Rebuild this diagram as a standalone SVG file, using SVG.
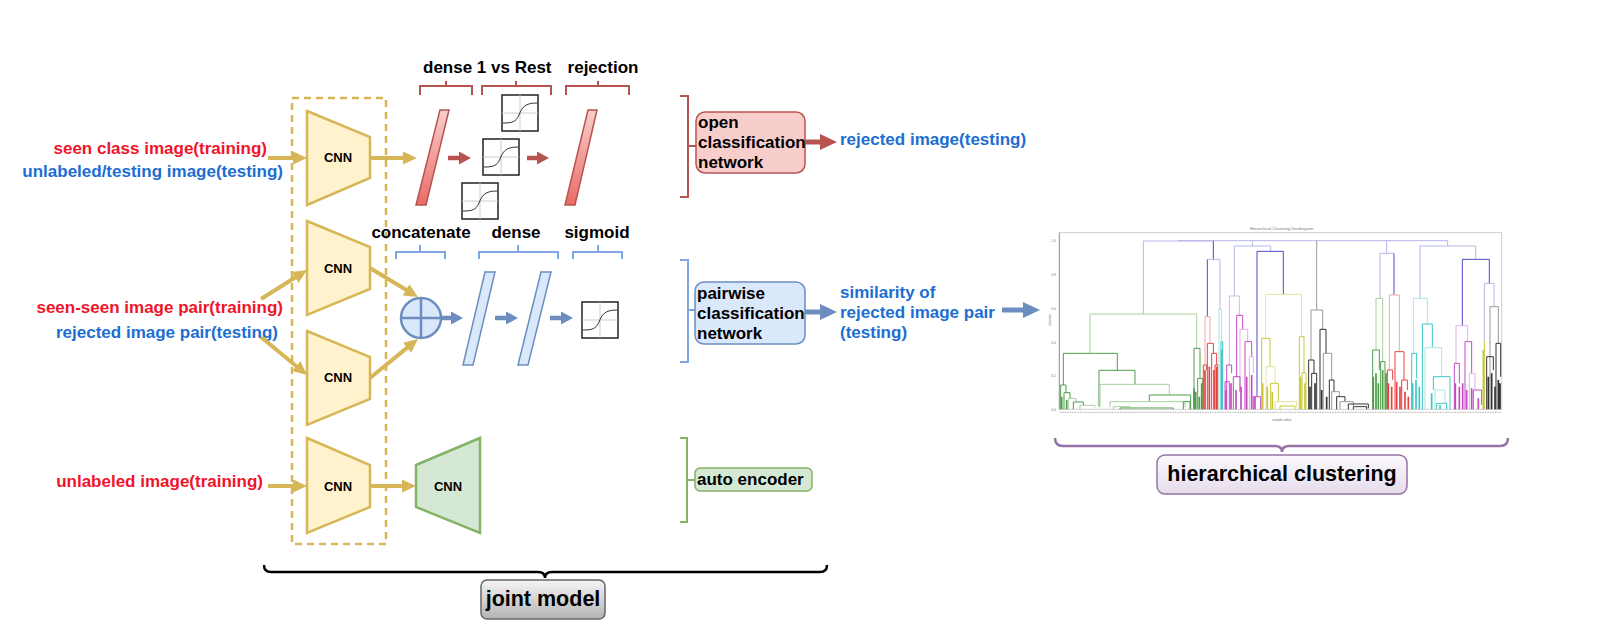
<svg xmlns="http://www.w3.org/2000/svg" width="1602" height="640" viewBox="0 0 1602 640">
<style>
text{font-family:"Liberation Sans",Arial,sans-serif;font-weight:bold}
.lbl{font-size:17px}
.red{fill:#f0142a}
.blu{fill:#1c6ed2}
.blk{fill:#000}
.cnn{fill:#fff2cc;stroke:#d6b656;stroke-width:2.5}
.cnnt{font-size:13px;text-anchor:middle;fill:#000}
.ay{fill:none;stroke:#d6b656;stroke-width:4;marker-end:url(#ah-y)}
.ar{fill:none;stroke:#b85450;stroke-width:4.5;marker-end:url(#ah-r)}
.ab{fill:none;stroke:#6c8ebf;stroke-width:4.5;marker-end:url(#ah-b)}
.arb{fill:none;stroke:#b85450;stroke-width:5;marker-end:url(#ah-rb)}
.abb{fill:none;stroke:#6c8ebf;stroke-width:5;marker-end:url(#ah-bb)}
.brr{fill:none;stroke:#b85450;stroke-width:2}
.brb{fill:none;stroke:#7ea6e0;stroke-width:2}
.brg{fill:none;stroke:#82b366;stroke-width:2}
.rbar{fill:url(#gr);stroke:#b85450;stroke-width:1.5}
.bbar{fill:#dae8fc;stroke:#6c8ebf;stroke-width:1.5}
.sigbox{fill:#fff;stroke:#222;stroke-width:1.5}
.siggrid{stroke:#ccc;stroke-width:1;fill:none}
.sigc{stroke:#333;stroke-width:1;fill:none}
.dg path{fill:none;stroke-width:3}
.g{stroke:#4e9e4a}.gl{stroke:#a5d29e}.r{stroke:#e8403f}.rl{stroke:#f1a9a8}
.m{stroke:#c24bc2}.ml{stroke:#e5b2e5}.y{stroke:#c8c83a}.yl{stroke:#e2e29c}
.c{stroke:#3cc6c6}.cl{stroke:#a9e5e5}.k{stroke:#333}.kl{stroke:#9a9a9a}
.b{stroke:#4b4bc4}.bl{stroke:#b6b6ea}
.thick{stroke-width:5 !important}
.tiny{font-weight:normal;fill:#777}
</style>
<defs>
<linearGradient id="gr" x1="0" y1="0" x2="0" y2="1"><stop offset="0" stop-color="#f8cecc"/><stop offset="1" stop-color="#ea6b66"/></linearGradient>
<linearGradient id="gg" x1="0" y1="0" x2="0" y2="1"><stop offset="0" stop-color="#f5f5f5"/><stop offset="1" stop-color="#b3b3b3"/></linearGradient>
<linearGradient id="gp" x1="0" y1="0" x2="0" y2="1"><stop offset="0" stop-color="#fbf9fc"/><stop offset="1" stop-color="#e6dcec"/></linearGradient>
<marker id="ah-y" viewBox="0 0 10 10" refX="1" refY="5" markerWidth="14" markerHeight="13" orient="auto" markerUnits="userSpaceOnUse" preserveAspectRatio="none"><path d="M0,0 L10,5 L0,10 Z" fill="#d6b656"/></marker>
<marker id="ah-r" viewBox="0 0 10 10" refX="1" refY="5" markerWidth="12" markerHeight="13" orient="auto" markerUnits="userSpaceOnUse" preserveAspectRatio="none"><path d="M0,0 L10,5 L0,10 Z" fill="#b85450"/></marker>
<marker id="ah-b" viewBox="0 0 10 10" refX="1" refY="5" markerWidth="12" markerHeight="13" orient="auto" markerUnits="userSpaceOnUse" preserveAspectRatio="none"><path d="M0,0 L10,5 L0,10 Z" fill="#6c8ebf"/></marker>
<marker id="ah-rb" viewBox="0 0 10 10" refX="1" refY="5" markerWidth="17" markerHeight="16" orient="auto" markerUnits="userSpaceOnUse" preserveAspectRatio="none"><path d="M0,0 L10,5 L0,10 Z" fill="#b85450"/></marker>
<marker id="ah-bb" viewBox="0 0 10 10" refX="1" refY="5" markerWidth="17" markerHeight="16" orient="auto" markerUnits="userSpaceOnUse" preserveAspectRatio="none"><path d="M0,0 L10,5 L0,10 Z" fill="#6c8ebf"/></marker>
<g id="sig">
<rect class="sigbox" x="0" y="0" width="36" height="36"/>
<path class="siggrid" d="M18,0 V36 M0,18 H36"/>
<path class="sigc" d="M1,28 C10,28 14,27 17,20 S22,8 35,8"/>
</g>
</defs>

<!-- input labels -->
<g id="labels-in">
<text class="lbl red" x="267" y="154" text-anchor="end">seen class image(training)</text>
<text class="lbl blu" x="283" y="177" text-anchor="end">unlabeled/testing image(testing)</text>
<text class="lbl red" x="283" y="313" text-anchor="end">seen-seen image pair(training)</text>
<text class="lbl blu" x="278" y="338" text-anchor="end">rejected image pair(testing)</text>
<text class="lbl red" x="263" y="487" text-anchor="end">unlabeled image(training)</text>
</g>

<!-- shared encoder dashed box -->
<g id="shared-box">
<rect x="292" y="98" width="94" height="446" fill="none" stroke="#d6b656" stroke-width="2.5" stroke-dasharray="7 5"/>
</g>

<g id="cnn1"><polygon class="cnn" points="307,111 370,137 370,178 307,205"/><text class="cnnt" x="338" y="162">CNN</text></g>
<g id="cnn2"><polygon class="cnn" points="307,221 370,247 370,289 307,315"/><text class="cnnt" x="338" y="273">CNN</text></g>
<g id="cnn3"><polygon class="cnn" points="307,331 370,357 370,399 307,425"/><text class="cnnt" x="338" y="382">CNN</text></g>
<g id="cnn4"><polygon class="cnn" points="307,438 370,465 370,507 307,533"/><text class="cnnt" x="338" y="491">CNN</text></g>
<g id="decoder"><polygon points="416,465 480,438 480,533 416,507" fill="#d5e8d4" stroke="#82b366" stroke-width="2.5"/><text class="cnnt" x="448" y="491">CNN</text></g>

<!-- open classification branch -->
<g id="open-layers">
<text class="lbl blk" x="423" y="73">dense 1 vs Rest</text>
<text class="lbl blk" x="603" y="73" text-anchor="middle">rejection</text>
<path class="brr" d="M420,95 V86 H472 V95 M446,86 V81"/>
<path class="brr" d="M482,95 V86 H551 V95 M516,86 V81"/>
<path class="brr" d="M566,95 V86 H629 V95 M598,86 V81"/>
<polygon class="rbar" points="440,110 449,110 426,205 416,205"/>
<polygon class="rbar" points="588,110 597,110 575,205 565,205"/>
<use href="#sig" x="502" y="95"/>
<use href="#sig" x="483" y="139"/>
<use href="#sig" x="462" y="183"/>
</g>

<!-- pairwise branch -->
<g id="pair-layers">
<text class="lbl blk" x="421" y="238" text-anchor="middle">concatenate</text>
<text class="lbl blk" x="516" y="238" text-anchor="middle">dense</text>
<text class="lbl blk" x="597" y="238" text-anchor="middle">sigmoid</text>
<path class="brb" d="M396,259 V252 H445 V259 M420,252 V245"/>
<path class="brb" d="M479,259 V252 H558 V259 M518,252 V245"/>
<path class="brb" d="M573,259 V252 H622 V259 M598,252 V245"/>
<circle cx="421" cy="318" r="20" fill="#dae8fc" stroke="#6c8ebf" stroke-width="2.5"/>
<path d="M401,318 H441 M421,298 V338" stroke="#6c8ebf" stroke-width="2.5" fill="none"/>
<polygon class="bbar" points="485,272 495,272 473,365 463,365"/>
<polygon class="bbar" points="541,272 551,272 528,365 518,365"/>
<use href="#sig" x="582" y="302"/>
</g>

<!-- group brackets and heads -->
<g id="open-head">
<path class="brr" d="M680,96 H688 V197 H680 M688,146 H696"/>
<rect x="696" y="112" width="109" height="61" rx="9" fill="#f8cecc" stroke="#b85450" stroke-width="1.5"/>
<text class="lbl blk" x="698" y="128">open</text>
<text class="lbl blk" x="698" y="148">classification</text>
<text class="lbl blk" x="698" y="168">network</text>
</g>
<g id="pair-head">
<path class="brb" d="M680,260 H688 V362 H680 M688,310 H695"/>
<rect x="695" y="282" width="110" height="62" rx="9" fill="#dae8fc" stroke="#6c8ebf" stroke-width="1.5"/>
<text class="lbl blk" x="697" y="299">pairwise</text>
<text class="lbl blk" x="697" y="319">classification</text>
<text class="lbl blk" x="697" y="339">network</text>
</g>
<g id="ae-head">
<path class="brg" d="M680,438 H687 V522 H680 M687,480 H695"/>
<rect x="695" y="468" width="117" height="23" rx="5" fill="#d5e8d4" stroke="#82b366" stroke-width="1.5"/>
<text class="lbl blk" x="697" y="485">auto encoder</text>
</g>

<g id="outputs">
<text class="lbl blu" x="840" y="145">rejected image(testing)</text>
<text class="lbl blu" x="840" y="298">similarity of</text>
<text class="lbl blu" x="840" y="318">rejected image pair</text>
<text class="lbl blu" x="840" y="338">(testing)</text>
</g>

<!-- connectors -->
<g id="connectors">
<path class="ay" d="M268,158 H294.4"/>
<path class="ay" d="M370,158 H404.4"/>
<path class="ay" d="M261,299 L296.3,276.7"/>
<path class="ay" d="M261,337 L297.3,367"/>
<path class="ay" d="M370,268 L407.2,290.5"/>
<path class="ay" d="M370,378 L408.2,346.9"/>
<path class="ay" d="M268,486 H294.4"/>
<path class="ay" d="M370,486 H403.4"/>
<path class="ar" d="M448,158 H460.2"/>
<path class="ar" d="M527,158 H538.2"/>
<path class="ab" d="M441,318 H452.2"/>
<path class="ab" d="M495,318 H507.2"/>
<path class="ab" d="M550,318 H562.2"/>
<path class="arb" d="M805,142 H821.7"/>
<path class="abb" d="M805,312 H821.7"/>
<path class="abb" d="M1002,310 H1024.7"/>
</g>

<!-- joint model -->
<g id="joint-model">
<path d="M264,565 Q264,572 271,572 H538 Q545,572 545,578 Q545,572 552,572 H820 Q827,572 827,565" fill="none" stroke="#000" stroke-width="2.5"/>
<rect x="481" y="580" width="124" height="39" rx="6" fill="url(#gg)" stroke="#666" stroke-width="1.5"/>
<text x="543" y="600" font-size="21.5" text-anchor="middle" dominant-baseline="middle" fill="#000">joint model</text>
</g>

<!-- dendrogram -->
<g id="dendrogram" class="dg" transform="translate(1020,210) scale(0.33333)">
<rect x="118" y="68" width="1327" height="530" fill="#fff" stroke="#cfcfcf" stroke-width="3"/>
<path d="M118,68 V598" stroke="#999"/>
<text class="tiny" x="785" y="60" font-size="12" text-anchor="middle">Hierarchical Clustering Dendrogram</text>
<text class="tiny" x="108" y="96" font-size="10" text-anchor="end">1.0</text>
<text class="tiny" x="108" y="199" font-size="10" text-anchor="end">0.8</text>
<text class="tiny" x="108" y="300" font-size="10" text-anchor="end">0.6</text>
<text class="tiny" x="108" y="401" font-size="10" text-anchor="end">0.4</text>
<text class="tiny" x="108" y="502" font-size="10" text-anchor="end">0.2</text>
<text class="tiny" x="108" y="602" font-size="10" text-anchor="end">0.0</text>
<text class="tiny" x="0" y="0" font-size="10" text-anchor="middle" transform="translate(92,330) rotate(-90)">distance</text>
<text class="tiny" x="785" y="632" font-size="10" text-anchor="middle">sample index</text>
<path d="M120,607 H1443" stroke="#8a8a8a" stroke-width="12" stroke-dasharray="3 2" opacity="0.7"/>
<!-- top -->
<path class="bl" d="M370,312 V93 H580"/>
<path class="bl" d="M475,93 V92 H1283 V108"/>
<path class="bl" d="M697,108 V92"/>
<path class="kl" d="M890,300 V92"/>
<path class="bl" d="M1100,130 V92"/>
<path class="b" d="M580,93 V148"/>
<path class="b" d="M562,320 V148"/>
<path class="bl" d="M562,148 H600 V298"/>
<path class="bl" d="M643,258 V108 H752 V124"/>
<path class="b" d="M711,560 V124 H790 V253"/>
<path class="bl" d="M1080,265 V130 H1122"/>
<path class="b" d="M1122,130 V255"/>
<path class="bl" d="M1200,265 V108 H1367 V148"/>
<path class="b" d="M1327,347 V148 H1408 V220"/>
<path class="bl" d="M1393,390 V220 H1422 V290"/>
<!-- left green -->
<path class="gl" d="M210,430 V312 H530 V415"/>
<path class="g" d="M130,525 V430 H292 V481"/>
<path class="g" d="M237,590 V481 H345 V523"/>
<path class="gl" d="M240,592 V523 H448 V555"/>
<path class="g" d="M388,575 V555 H512 V598"/>
<path class="gl" d="M270,592 V575 H495 V592"/>
<path class="g" d="M122,598 V525 H138 V548"/>
<path class="g" d="M132,598 V548 H150 V565"/>
<path class="gl" d="M145,598 V565 H168 V576"/>
<path class="g" d="M160,598 V576 H190 V586"/>
<path class="gl" d="M180,598 V586 H225 V592"/>
<path class="gl" d="M280,598 V590 H330 V596"/>
<path class="g" d="M300,598 V594 H460 V598"/>
<path class="g" d="M490,598 V575 H510 V598"/>
<path class="g" d="M522,598 V415 H540 V505"/>
<path class="g" d="M533,598 V505 H548 V598"/>
<path class="g thick" d="M522,598 V535 M527,598 V545 M538,598 V560 M545,598 V520 M125,598 V560 M140,598 V570"/>
<!-- red -->
<path class="rl" d="M555,465 V320 H570 V400"/>
<path class="r" d="M562,598 V400 H580 V430"/>
<path class="r" d="M575,598 V430 H590 V465"/>
<path class="r" d="M550,598 V465 H560 V480"/>
<path class="r" d="M585,598 V465 H593 V598"/>
<path class="r thick" d="M555,598 V480 M568,598 V470 M582,598 V480 M590,598 V470"/>
<path class="cl" d="M597,598 V298 H605 V395"/>
<path class="c" d="M603,598 V395 H608 V598"/>
<path class="c thick" d="M605,598 V420"/>
<!-- magenta -->
<path class="ml" d="M628,465 V258 H658 V316"/>
<path class="m" d="M650,500 V316 H668 V358"/>
<path class="ml" d="M660,545 V358 H683 V395"/>
<path class="m" d="M675,598 V395 H695 V440"/>
<path class="ml" d="M688,598 V440 H700 V490"/>
<path class="m" d="M620,598 V465 H635 V490"/>
<path class="m" d="M615,598 V515 H628 V598"/>
<path class="m" d="M640,598 V500 H660 V545"/>
<path class="m" d="M700,598 V560 H722 V598"/>
<path class="m thick" d="M618,598 V540 M633,598 V520 M648,598 V540 M663,598 V530 M680,598 V500 M695,598 V495 M705,598 V560"/>
<!-- yellow -->
<path class="yl" d="M737,385 V253 H845 V380"/>
<path class="y" d="M725,598 V385 H750 V470"/>
<path class="yl" d="M738,598 V470 H765 V520"/>
<path class="y" d="M752,598 V520 H775 V575"/>
<path class="yl" d="M765,598 V575 H830 V592"/>
<path class="y" d="M780,598 V588 H825 V598"/>
<path class="y" d="M838,598 V380 H852 V488"/>
<path class="y" d="M846,598 V488 H858 V598"/>
<path class="y thick" d="M728,598 V520 M742,598 V530 M757,598 V545 M842,598 V500 M855,598 V520"/>
<!-- black -->
<path class="kl" d="M873,450 V300 H908 V358"/>
<path class="k" d="M900,598 V358 H918 V430"/>
<path class="k" d="M866,598 V450 H882 V490"/>
<path class="k" d="M875,598 V490 H890 V598"/>
<path class="kl" d="M910,598 V430 H935 V510"/>
<path class="k" d="M928,598 V510 H942 V545"/>
<path class="kl" d="M935,598 V545 H958 V560"/>
<path class="k" d="M950,598 V560 H975 V575"/>
<path class="kl" d="M960,598 V575 H1000 V588"/>
<path class="k" d="M985,598 V582 H1045 V595"/>
<path class="k" d="M1000,598 V590 H1040 V598"/>
<path class="k thick" d="M870,598 V530 M885,598 V520 M905,598 V540 M920,598 V560"/>
<!-- right green -->
<path class="gl" d="M1068,420 V265 H1088 V455"/>
<path class="g" d="M1058,598 V420 H1078 V480"/>
<path class="g" d="M1082,598 V455 H1095 V598"/>
<path class="g thick" d="M1060,598 V500 M1068,598 V490 M1075,598 V520 M1088,598 V480 M1098,598 V490"/>
<!-- right red -->
<path class="rl" d="M1108,480 V255 H1138 V425"/>
<path class="r" d="M1125,598 V425 H1152 V510"/>
<path class="r" d="M1102,598 V480 H1118 V510"/>
<path class="r" d="M1145,598 V510 H1162 V540"/>
<path class="r thick" d="M1105,598 V520 M1115,598 V530 M1130,598 V515 M1140,598 V530 M1155,598 V545 M1165,598 V560"/>
<!-- cyan -->
<path class="cl" d="M1180,430 V265 H1222 V342"/>
<path class="c" d="M1207,598 V342 H1237 V413"/>
<path class="cl" d="M1215,598 V413 H1265 V500"/>
<path class="c" d="M1240,540 V500 H1290 V598"/>
<path class="c" d="M1175,598 V430 H1190 V505"/>
<path class="cl" d="M1245,598 V540 H1275 V580"/>
<path class="c" d="M1250,598 V580 H1280 V598"/>
<path class="c thick" d="M1178,598 V520 M1188,598 V510 M1198,598 V530 M1235,598 V550 M1260,598 V585"/>
<!-- right magenta -->
<path class="ml" d="M1308,460 V347 H1343 V395"/>
<path class="m" d="M1335,598 V395 H1355 V490"/>
<path class="m" d="M1303,598 V460 H1318 V520"/>
<path class="ml" d="M1348,598 V490 H1365 V540"/>
<path class="m" d="M1360,598 V540 H1385 V585"/>
<path class="m thick" d="M1306,598 V520 M1318,598 V530 M1328,598 V520 M1340,598 V540 M1355,598 V535 M1375,598 V565"/>
<!-- right yellow and gray -->
<path class="y" d="M1393,598 V390"/>
<path class="y thick" d="M1390,598 V420"/>
<path class="kl" d="M1410,598 V290 H1435 V400"/>
<path class="k" d="M1400,598 V440 H1420 V480"/>
<path class="k" d="M1428,598 V400 H1442 V500"/>
<path class="k thick" d="M1405,598 V500 M1415,598 V490 M1425,598 V530 M1435,598 V510 M1440,598 V520"/>
</g>

<!-- hierarchical clustering -->
<g id="hier-clustering">
<path d="M1055,438 Q1055,446 1063,446 H1275 Q1282,446 1282,452 Q1282,446 1289,446 H1500 Q1508,446 1508,438" fill="none" stroke="#9673a6" stroke-width="2.5"/>
<rect x="1157" y="455" width="250" height="39" rx="8" fill="url(#gp)" stroke="#9673a6" stroke-width="1.5"/>
<text x="1282" y="475" font-size="21.5" text-anchor="middle" dominant-baseline="middle" fill="#000">hierarchical clustering</text>
</g>
</svg>
